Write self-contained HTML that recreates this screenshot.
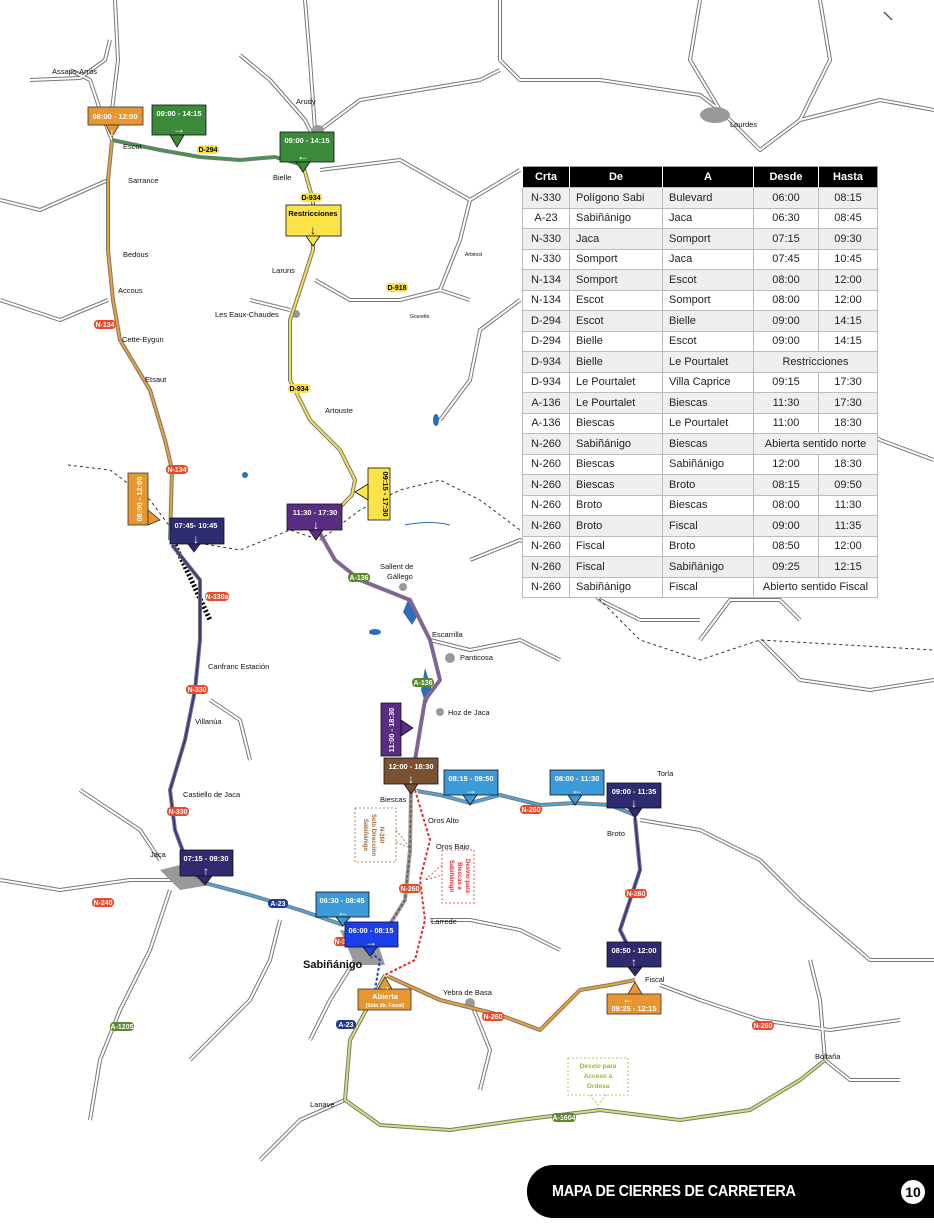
<!DOCTYPE html>
<html><head><meta charset="utf-8"><style>
body{margin:0;width:934px;height:1230px;background:#fff;position:relative;overflow:hidden;font-family:"Liberation Sans",sans-serif}
svg{position:absolute;left:0;top:0}
svg text.a{font-size:12px;font-weight:bold}
table{position:absolute;left:522px;top:166px;width:356px;border-collapse:collapse;font-size:11px;background:#fff;border:1px solid #999}
th{background:#000;color:#fff;font-weight:bold;height:20px;padding:0;border-left:1px solid #fff;font-size:11px}
td{height:19.5px;padding:0 0 0 6px;border:1px solid #bbb;color:#222}
td:first-child{text-align:center;padding:0}
tr:nth-child(even) td{background:#efefef}
td.c{text-align:center;padding:0}
.ban{position:absolute;left:527px;top:1165px;width:420px;height:53px;background:#000;border-radius:26px 0 0 26px;color:#fff;font-weight:bold;font-size:16px;line-height:53px;padding-left:25px;box-sizing:border-box;letter-spacing:-0.3px}
.ban span{display:inline-block;transform:scaleX(0.9);transform-origin:left}
.num{position:absolute;left:901px;top:1180px;width:24px;height:24px;border-radius:12px;background:#fff;color:#000;font-weight:bold;font-size:14px;text-align:center;line-height:24px}
</style></head><body>
<svg width="934" height="1230" viewBox="0 0 934 1230">
<g fill="none" stroke="#777" stroke-width="4" stroke-linejoin="round">
<path d="M30 80 L80 78 L105 60 L110 40"/><path d="M112 140 L100 110 L90 80 L70 70"/>
<path d="M115 0 L118 60 L112 110"/><path d="M240 55 L270 80 L305 120 L315 140"/>
<path d="M305 0 L310 60 L315 130"/><path d="M320 130 L360 100 L420 90 L480 80 L500 70"/>
<path d="M500 0 L500 60 L520 80 L600 80 L700 95 L720 110"/><path d="M720 110 L760 150 L800 120 L880 100 L934 110"/>
<path d="M720 110 L690 60 L700 0"/><path d="M820 0 L830 60 L800 120"/>
<path d="M320 170 L400 160 L470 200 L520 170"/><path d="M315 280 L350 300 L400 300 L440 290 L470 300"/>
<path d="M440 290 L460 240 L470 200"/><path d="M520 300 L480 330 L470 380 L440 420"/>
<path d="M0 300 L60 320 L108 300"/><path d="M0 200 L40 210 L108 180"/>
<path d="M250 300 L290 310"/><path d="M0 880 L60 890 L130 880 L190 880"/>
<path d="M160 860 L140 830 L110 810 L80 790"/><path d="M170 890 L150 950 L120 1010 L100 1060 L90 1120"/>
<path d="M280 920 L270 960 L250 1000 L210 1040 L190 1060"/><path d="M355 960 L330 1000 L310 1040"/>
<path d="M430 640 L470 650 L520 640 L560 660"/><path d="M470 560 L520 540 L560 560 L600 600 L640 620"/>
<path d="M700 640 L730 600 L780 600 L800 620"/><path d="M760 640 L800 680 L870 690 L934 680"/>
<path d="M640 820 L700 830 L760 860 L800 900 L870 960 L934 960"/><path d="M660 985 L700 1000 L760 1020 L830 1030 L900 1020"/>
<path d="M825 1060 L850 1080 L900 1080"/><path d="M825 1060 L820 1000 L810 960"/>
<path d="M470 1000 L490 1050 L480 1090"/><path d="M345 1100 L300 1120 L260 1160"/>
<path d="M210 700 L240 720 L250 760"/><path d="M560 950 L520 930 L470 920 L430 920"/>
<path d="M700 300 L760 360 L820 400 L880 440 L934 460"/><path d="M640 620 L700 620"/>
</g>
<g fill="none" stroke="#fff" stroke-width="2" stroke-linejoin="round">
<path d="M30 80 L80 78 L105 60 L110 40"/><path d="M112 140 L100 110 L90 80 L70 70"/>
<path d="M115 0 L118 60 L112 110"/><path d="M240 55 L270 80 L305 120 L315 140"/>
<path d="M305 0 L310 60 L315 130"/><path d="M320 130 L360 100 L420 90 L480 80 L500 70"/>
<path d="M500 0 L500 60 L520 80 L600 80 L700 95 L720 110"/><path d="M720 110 L760 150 L800 120 L880 100 L934 110"/>
<path d="M720 110 L690 60 L700 0"/><path d="M820 0 L830 60 L800 120"/>
<path d="M320 170 L400 160 L470 200 L520 170"/><path d="M315 280 L350 300 L400 300 L440 290 L470 300"/>
<path d="M440 290 L460 240 L470 200"/><path d="M520 300 L480 330 L470 380 L440 420"/>
<path d="M0 300 L60 320 L108 300"/><path d="M0 200 L40 210 L108 180"/>
<path d="M250 300 L290 310"/><path d="M0 880 L60 890 L130 880 L190 880"/>
<path d="M160 860 L140 830 L110 810 L80 790"/><path d="M170 890 L150 950 L120 1010 L100 1060 L90 1120"/>
<path d="M280 920 L270 960 L250 1000 L210 1040 L190 1060"/><path d="M355 960 L330 1000 L310 1040"/>
<path d="M430 640 L470 650 L520 640 L560 660"/><path d="M470 560 L520 540 L560 560 L600 600 L640 620"/>
<path d="M700 640 L730 600 L780 600 L800 620"/><path d="M760 640 L800 680 L870 690 L934 680"/>
<path d="M640 820 L700 830 L760 860 L800 900 L870 960 L934 960"/><path d="M660 985 L700 1000 L760 1020 L830 1030 L900 1020"/>
<path d="M825 1060 L850 1080 L900 1080"/><path d="M825 1060 L820 1000 L810 960"/>
<path d="M470 1000 L490 1050 L480 1090"/><path d="M345 1100 L300 1120 L260 1160"/>
<path d="M210 700 L240 720 L250 760"/><path d="M560 950 L520 930 L470 920 L430 920"/>
<path d="M700 300 L760 360 L820 400 L880 440 L934 460"/><path d="M640 620 L700 620"/>
</g>
<path d="M68 465 L110 470 L150 500 L180 540 L240 550 L290 530 L320 540 L360 510 L400 490 L440 480 L480 500 L520 530 L600 600 L640 640 L700 660 L760 640 L934 650" fill="none" stroke="#333" stroke-width="1" stroke-dasharray="3 3"/>
<g fill="#999"><ellipse cx="715" cy="115" rx="15" ry="8"/><ellipse cx="318" cy="130" rx="6" ry="5"/><path d="M160 870 L200 860 L210 885 L180 890Z"/><path d="M340 930 L375 935 L385 965 L355 965Z"/>
<circle cx="470" cy="1003" r="5"/><circle cx="450" cy="658" r="5"/><circle cx="403" cy="587" r="4"/><circle cx="440" cy="712" r="4"/><circle cx="296" cy="314" r="4"/></g>
<g fill="#2a6fb8"><path d="M408 600 L418 615 L412 625 L403 612Z"/><path d="M425 668 L432 690 L426 705 L421 690Z"/><ellipse cx="375" cy="632" rx="6" ry="3"/><ellipse cx="436" cy="420" rx="3" ry="6"/><ellipse cx="245" cy="475" rx="3" ry="3"/></g>
<path d="M405 525 Q430 520 450 525" fill="none" stroke="#2a6fb8"/>
<path d="M175 545 L210 620" stroke="#000" stroke-width="5" stroke-dasharray="2 2"/>
<g fill="none" stroke-linejoin="round" stroke-width="4" stroke="#777">
<path d="M112 140 L108 180 L108 250 L113 300 L120 340 L150 390 L165 440 L172 470 L170 540"/>
<path d="M112 140 L160 150 L200 157 L240 160 L275 157 L303 165"/>
<path d="M303 165 L313 200 L313 250 L300 290 L290 320 L290 380 L310 420 L340 450 L355 480 L352 495 L318 530"/>
<path d="M318 530 L335 560 L360 580 L385 590 L410 600 L430 640 L440 680 L425 700 L420 730 L415 760"/>
<path d="M172 545 L200 580 L200 640 L195 690 L185 740 L170 790 L175 830 L190 870 L205 883"/>
<path d="M205 883 L250 895 L300 910 L343 925"/>
<path d="M411 790 L440 795 L470 803 L500 795 L540 805 L575 803 L610 805 L635 815"/>
<path d="M635 818 L640 870 L630 900 L620 930 L635 960"/>
<path d="M385 975 L440 1000 L500 1015 L540 1030 L580 990 L610 985 L635 980"/>
<path d="M385 975 L350 1040 L345 1100 L380 1125 L450 1130 L520 1120 L600 1110 L680 1120 L750 1110 L800 1080 L825 1060"/>
</g>
<g fill="none" stroke-linejoin="round" stroke-width="2">
<path stroke="#f0a030" d="M112 140 L108 180 L108 250 L113 300 L120 340 L150 390 L165 440 L172 470 L170 540"/>
<path stroke="#3b9a48" d="M112 140 L160 150 L200 157 L240 160 L275 157 L303 165"/>
<path stroke="#f7e04a" d="M303 165 L313 200 L313 250 L300 290 L290 320 L290 380 L310 420 L340 450 L355 480 L352 495 L318 530"/>
<path stroke="#8a5aa8" d="M318 530 L335 560 L360 580 L385 590 L410 600 L430 640 L440 680 L425 700 L420 730 L415 760"/>
<path stroke="#3b3790" d="M172 545 L200 580 L200 640 L195 690 L185 740 L170 790 L175 830 L190 870 L205 883"/>
<path stroke="#4aa5e0" d="M205 883 L250 895 L300 910 L343 925"/>
<path stroke="#4aa5e0" d="M411 790 L440 795 L470 803 L500 795 L540 805 L575 803 L610 805 L635 815"/>
<path stroke="#3b3790" d="M635 818 L640 870 L630 900 L620 930 L635 960"/>
<path stroke="#f0a030" d="M385 975 L440 1000 L500 1015 L540 1030 L580 990 L610 985 L635 980"/>
<path stroke="#d6e070" d="M385 975 L350 1040 L345 1100 L380 1125 L450 1130 L520 1120 L600 1110 L680 1120 L750 1110 L800 1080 L825 1060"/>
<path stroke="#999" stroke-width="4" d="M411 790 L410 850 L405 900 L380 940 L370 960"/>
<path stroke="#7a5232" stroke-width="1.5" stroke-dasharray="3 2" d="M411 790 L410 850 L405 900 L380 940 L370 960"/>
<path stroke="#fff" stroke-width="4" d="M415 790 L430 840 L420 880 L425 920 L415 960 L385 975"/>
<path stroke="#e03030" stroke-width="2" stroke-dasharray="3 2" d="M415 790 L430 840 L420 880 L425 920 L415 960 L385 975"/>
<path stroke="#1a3ee8" stroke-width="2" stroke-dasharray="3 2" d="M355 940 L380 960 L375 990 L365 1010"/>
</g>
<g font-size="7" font-weight="bold" text-anchor="middle">
<rect x="94" y="320" width="22" height="9" rx="4" fill="#e84a2a"/><text x="105" y="327" fill="#fff">N-134</text>
<rect x="166" y="465" width="22" height="9" rx="4" fill="#e84a2a"/><text x="177" y="472" fill="#fff">N-134</text>
<rect x="197" y="145" width="22" height="9" rx="4" fill="#f7e04a"/><text x="208" y="152">D-294</text>
<rect x="300" y="193" width="22" height="9" rx="4" fill="#f7e04a"/><text x="311" y="200">D-934</text>
<rect x="288" y="384" width="22" height="9" rx="4" fill="#f7e04a"/><text x="299" y="391">D-934</text>
<rect x="386" y="283" width="22" height="9" rx="4" fill="#f7e04a"/><text x="397" y="290">D-918</text>
<rect x="348" y="573" width="22" height="9" rx="4" fill="#5a8a30"/><text x="359" y="580" fill="#fff">A-136</text>
<rect x="412" y="678" width="22" height="9" rx="4" fill="#5a8a30"/><text x="423" y="685" fill="#fff">A-136</text>
<rect x="205" y="592" width="24" height="9" rx="4" fill="#e84a2a"/><text x="217" y="599" fill="#fff">N-330a</text>
<rect x="186" y="685" width="22" height="9" rx="4" fill="#e84a2a"/><text x="197" y="692" fill="#fff">N-330</text>
<rect x="167" y="807" width="22" height="9" rx="4" fill="#e84a2a"/><text x="178" y="814" fill="#fff">N-330</text>
<rect x="92" y="898" width="22" height="9" rx="4" fill="#e84a2a"/><text x="103" y="905" fill="#fff">N-240</text>
<rect x="268" y="899" width="20" height="9" rx="4" fill="#1f3a93"/><text x="278" y="906" fill="#fff">A-23</text>
<rect x="336" y="1020" width="20" height="9" rx="4" fill="#1f3a93"/><text x="346" y="1027" fill="#fff">A-23</text>
<rect x="399" y="884" width="22" height="9" rx="4" fill="#e84a2a"/><text x="410" y="891" fill="#fff">N-260</text>
<rect x="334" y="937" width="24" height="9" rx="4" fill="#e84a2a"/><text x="346" y="944" fill="#fff">N-330a</text>
<rect x="520" y="805" width="22" height="9" rx="4" fill="#e84a2a"/><text x="531" y="812" fill="#fff">N-260</text>
<rect x="625" y="889" width="22" height="9" rx="4" fill="#e84a2a"/><text x="636" y="896" fill="#fff">N-260</text>
<rect x="482" y="1012" width="22" height="9" rx="4" fill="#e84a2a"/><text x="493" y="1019" fill="#fff">N-260</text>
<rect x="752" y="1021" width="22" height="9" rx="4" fill="#e84a2a"/><text x="763" y="1028" fill="#fff">N-260</text>
<rect x="110" y="1022" width="24" height="9" rx="4" fill="#5a8a30"/><text x="122" y="1029" fill="#fff">A-1205</text>
<rect x="552" y="1113" width="24" height="9" rx="4" fill="#5a8a30"/><text x="564" y="1120" fill="#fff">A-1604</text>
</g>
<g font-size="7.5" fill="#111">
<text x="52" y="74">Assaps-Arrós</text><text x="296" y="104">Arudy</text><text x="730" y="127">Lourdes</text>
<text x="123" y="149">Escot</text><text x="128" y="183">Sarrance</text><text x="273" y="180">Bielle</text>
<text x="123" y="257">Bedous</text><text x="118" y="293">Accous</text><text x="272" y="273">Laruns</text>
<text x="465" y="256" font-size="5">Arbéost</text><text x="410" y="318" font-size="5">Gourette</text>
<text x="215" y="317">Les Eaux-Chaudes</text><text x="122" y="342">Cette-Eygun</text><text x="145" y="382">Etsaut</text>
<text x="325" y="413">Artouste</text><text x="380" y="569">Sallent de</text><text x="387" y="579">Gállego</text>
<text x="432" y="637">Escarrilla</text><text x="460" y="660">Panticosa</text><text x="448" y="715">Hoz de Jaca</text>
<text x="208" y="669">Canfranc Estación</text><text x="195" y="724">Villanúa</text><text x="183" y="797">Castiello de Jaca</text>
<text x="150" y="857">Jaca</text><text x="380" y="802">Biescas</text><text x="428" y="823">Oros Alto</text><text x="436" y="849">Oros Bajo</text>
<text x="431" y="924">Larrede</text><text x="443" y="995">Yebra de Basa</text><text x="657" y="776">Torla</text><text x="607" y="836">Broto</text>
<text x="645" y="982">Fiscal</text><text x="815" y="1059">Boltaña</text><text x="310" y="1107">Lanave</text>
<text x="303" y="968" font-size="11" font-weight="bold">Sabiñánigo</text>
</g>
<g font-size="7.5" font-weight="bold" text-anchor="middle" stroke-width="0.8">
<g fill="#e8962f" stroke="#333"><rect x="88" y="107" width="55" height="18"/><polygon points="106,125 119,125 112,137"/></g><text x="115" y="119" fill="#fff">08:00 - 12:00</text><text class="a" x="112" y="136" fill="#fff">↓</text>
<g fill="#3a8a3a" stroke="#111"><rect x="152" y="105" width="54" height="30"/><polygon points="170,135 184,135 177,147"/></g><text x="179" y="116" fill="#fff">09:00 - 14:15</text><text class="a" x="179" y="133" fill="#fff">→</text>
<g fill="#3a8a3a" stroke="#111"><rect x="280" y="132" width="54" height="30"/><polygon points="296,162 310,162 303,172"/></g><text x="307" y="143" fill="#fff">09:00 - 14:15</text><text class="a" x="303" y="160" fill="#fff">←</text>
<g fill="#fde34a" stroke="#111"><rect x="286" y="205" width="55" height="31"/><polygon points="306,236 320,236 313,246"/></g><text x="313" y="216">Restricciones</text><text class="a" x="313" y="234">↓</text>
<g fill="#e8962f" stroke="#333"><rect x="128" y="473" width="20" height="52"/><polygon points="148,510 148,525 160,520"/></g><text transform="translate(142 499) rotate(-90)" fill="#fff">08:00 - 12:00</text>
<g fill="#2e2b6e" stroke="#111"><rect x="170" y="518" width="54" height="26"/><polygon points="188,544 200,544 194,552"/></g><text x="196" y="528" fill="#fff">07:45- 10:45</text><text class="a" x="196" y="543" fill="#fff">↓</text>
<g fill="#fde34a" stroke="#111"><rect x="368" y="468" width="22" height="52"/><polygon points="368,484 368,500 355,492"/></g><text transform="translate(383 494) rotate(90)">09:15 - 17:30</text>
<g fill="#5b2d82" stroke="#111"><rect x="287" y="504" width="55" height="26"/><polygon points="309,530 323,530 316,540"/></g><text x="315" y="515" fill="#fff">11:30 - 17:30</text><text class="a" x="316" y="529" fill="#fff">↓</text>
<g fill="#5b2d82" stroke="#111"><rect x="381" y="703" width="20" height="53"/><polygon points="401,720 401,736 413,728"/></g><text transform="translate(394 730) rotate(-90)" fill="#fff">11:00 - 18:30</text>
<g fill="#7a5232" stroke="#111"><rect x="384" y="758" width="54" height="26"/><polygon points="404,784 418,784 411,794"/></g><text x="411" y="769" fill="#fff">12:00 - 18:30</text><text class="a" x="411" y="783" fill="#fff">↓</text>
<g fill="#3d9ad8" stroke="#111"><rect x="444" y="770" width="54" height="25"/><polygon points="463,795 477,795 470,805"/></g><text x="471" y="781" fill="#fff">08:15 - 09:50</text><text class="a" x="471" y="794" fill="#fff">→</text>
<g fill="#3d9ad8" stroke="#111"><rect x="550" y="770" width="54" height="25"/><polygon points="568,795 582,795 575,805"/></g><text x="577" y="781" fill="#fff">08:00 - 11:30</text><text class="a" x="577" y="794" fill="#fff">←</text>
<g fill="#2e2b6e" stroke="#111"><rect x="607" y="783" width="54" height="25"/><polygon points="628,808 642,808 635,818"/></g><text x="634" y="794" fill="#fff">09:00 - 11:35</text><text class="a" x="634" y="807" fill="#fff">↓</text>
<g fill="#2e2b6e" stroke="#111"><rect x="180" y="850" width="53" height="26"/><polygon points="198,876 212,876 205,885"/></g><text x="206" y="861" fill="#fff">07:15 - 09:30</text><text class="a" x="206" y="875" fill="#fff">↑</text>
<g fill="#3d9ad8" stroke="#111"><rect x="316" y="892" width="53" height="25"/><polygon points="336,917 350,917 343,926"/></g><text x="342" y="903" fill="#fff">06:30 - 08:45</text><text class="a" x="343" y="916" fill="#fff">←</text>
<g fill="#1a3ee8" stroke="#111"><rect x="345" y="922" width="53" height="25"/><polygon points="363,947 377,947 370,956"/></g><text x="371" y="933" fill="#fff">06:00 - 08:15</text><text class="a" x="371" y="946" fill="#fff">→</text>
<g fill="#e8962f" stroke="#333"><rect x="358" y="989" width="53" height="21"/><polygon points="378,989 392,989 385,977"/></g><text class="a" x="385" y="990" fill="#fff">→</text><text x="385" y="999" fill="#fff">Abierta</text><text x="385" y="1007" fill="#fff" font-size="5">(Solo dir. Fiscal)</text>
<g fill="#2e2b6e" stroke="#111"><rect x="607" y="942" width="54" height="25"/><polygon points="628,967 642,967 635,976"/></g><text x="634" y="953" fill="#fff">08:50 - 12:00</text><text class="a" x="634" y="966" fill="#fff">↑</text>
<g fill="#e8962f" stroke="#333"><rect x="607" y="994" width="54" height="20"/><polygon points="628,994 642,994 635,982"/></g><text class="a" x="628" y="1003" fill="#fff">←</text><text x="634" y="1011" fill="#fff">09:25 - 12:15</text>
<g fill="#fff" stroke="#9ab830" stroke-dasharray="2 2"><rect x="568" y="1058" width="60" height="37"/></g><path d="M590 1095 L598 1105 L606 1095" fill="none" stroke="#9ab830" stroke-dasharray="2 2"/>
<g fill="#9ab830" font-size="6.5"><text x="598" y="1068">Desvío para</text><text x="598" y="1078">Acceso a</text><text x="598" y="1088">Ordesa</text></g>
<g fill="#fff" stroke="#9a6a40" stroke-dasharray="2 2"><rect x="355" y="808" width="41" height="54"/></g><path d="M396 830 L410 848 L396 842" fill="none" stroke="#9a6a40" stroke-dasharray="2 2"/>
<text transform="translate(372 835) rotate(90)" fill="#9a6a40" font-size="6"><tspan x="0" y="-8">N-260</tspan><tspan x="0" y="0">Solo Dirección</tspan><tspan x="0" y="8">Sabiñánigo</tspan></text>
<g fill="#fff" stroke="#e03030" stroke-dasharray="2 2"><rect x="442" y="850" width="32" height="53"/></g><path d="M442 865 L425 880 L442 875" fill="none" stroke="#e03030" stroke-dasharray="2 2"/>
<text transform="translate(458 876) rotate(90)" fill="#e03030" font-size="6"><tspan x="0" y="-8">Desvío para</tspan><tspan x="0" y="0">Biescas a</tspan><tspan x="0" y="8">Sabiñánigo</tspan></text>
</g>
<path d="M884 12 L892 20" stroke="#555" stroke-width="1.5"/>
</svg>
<table>
<tr><th style="width:46px">Crta</th><th style="width:92px">De</th><th style="width:90px">A</th><th style="width:64px">Desde</th><th>Hasta</th></tr>
<tr><td>N-330</td><td>Polígono Sabi</td><td>Bulevard</td><td class="c">06:00</td><td class="c">08:15</td></tr>
<tr><td>A-23</td><td>Sabiñánigo</td><td>Jaca</td><td class="c">06:30</td><td class="c">08:45</td></tr>
<tr><td>N-330</td><td>Jaca</td><td>Somport</td><td class="c">07:15</td><td class="c">09:30</td></tr>
<tr><td>N-330</td><td>Somport</td><td>Jaca</td><td class="c">07:45</td><td class="c">10:45</td></tr>
<tr><td>N-134</td><td>Somport</td><td>Escot</td><td class="c">08:00</td><td class="c">12:00</td></tr>
<tr><td>N-134</td><td>Escot</td><td>Somport</td><td class="c">08:00</td><td class="c">12:00</td></tr>
<tr><td>D-294</td><td>Escot</td><td>Bielle</td><td class="c">09:00</td><td class="c">14:15</td></tr>
<tr><td>D-294</td><td>Bielle</td><td>Escot</td><td class="c">09:00</td><td class="c">14:15</td></tr>
<tr><td>D-934</td><td>Bielle</td><td>Le Pourtalet</td><td class="c" colspan="2">Restricciones</td></tr>
<tr><td>D-934</td><td>Le Pourtalet</td><td>Villa Caprice</td><td class="c">09:15</td><td class="c">17:30</td></tr>
<tr><td>A-136</td><td>Le Pourtalet</td><td>Biescas</td><td class="c">11:30</td><td class="c">17:30</td></tr>
<tr><td>A-136</td><td>Biescas</td><td>Le Pourtalet</td><td class="c">11:00</td><td class="c">18:30</td></tr>
<tr><td>N-260</td><td>Sabiñánigo</td><td>Biescas</td><td class="c" colspan="2">Abierta sentido norte</td></tr>
<tr><td>N-260</td><td>Biescas</td><td>Sabiñánigo</td><td class="c">12:00</td><td class="c">18:30</td></tr>
<tr><td>N-260</td><td>Biescas</td><td>Broto</td><td class="c">08:15</td><td class="c">09:50</td></tr>
<tr><td>N-260</td><td>Broto</td><td>Biescas</td><td class="c">08:00</td><td class="c">11:30</td></tr>
<tr><td>N-260</td><td>Broto</td><td>Fiscal</td><td class="c">09:00</td><td class="c">11:35</td></tr>
<tr><td>N-260</td><td>Fiscal</td><td>Broto</td><td class="c">08:50</td><td class="c">12:00</td></tr>
<tr><td>N-260</td><td>Fiscal</td><td>Sabiñánigo</td><td class="c">09:25</td><td class="c">12:15</td></tr>
<tr><td>N-260</td><td>Sabiñánigo</td><td>Fiscal</td><td class="c" colspan="2">Abierto sentido Fiscal</td></tr>
</table>
<div class="ban"><span>MAPA DE CIERRES DE CARRETERA</span></div>
<div class="num">10</div>
</body></html>
